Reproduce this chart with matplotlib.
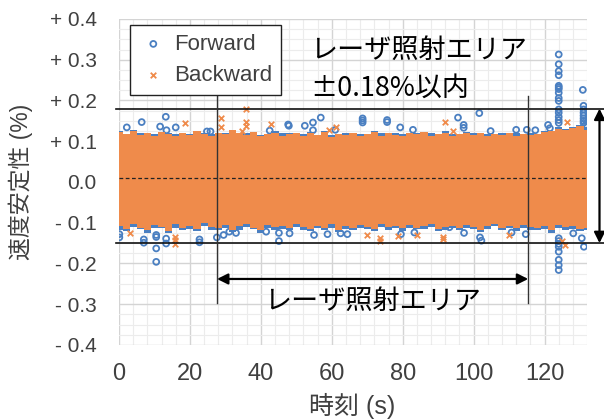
import numpy as np
import matplotlib
matplotlib.use("Agg")
import matplotlib.pyplot as plt
from matplotlib.ticker import FixedLocator, FuncFormatter

plt.rcParams['font.family'] = ['Liberation Sans', 'Noto Sans CJK JP']

BLUE = '#4a7fc1'
ORANGE = '#ef8b4b'
LABEL_GREY = '#404040'

# sample times (s) for the dense band envelopes
band_t = [0, 2, 4, 6, 8, 10, 12, 14, 16, 18, 20, 22, 24, 26, 28, 30, 32, 34, 36, 38,
          40, 42, 44, 46, 48, 50, 52, 54, 56, 58, 60, 62, 64, 66, 68, 70, 72, 74, 76, 78,
          80, 82, 84, 86, 88, 90, 92, 94, 96, 98, 100, 102, 104, 106, 108, 110, 112, 114,
          116, 118, 120, 122, 124, 126, 128, 130, 132]

# Backward (orange) dense band: upper / lower envelope (%)
bwd_hi = [0.122, 0.118, 0.125, 0.116, 0.121, 0.114, 0.123, 0.117, 0.112, 0.120,
          0.115, 0.124, 0.118, 0.113, 0.121, 0.117, 0.128, 0.119, 0.115, 0.122,
          0.112, 0.118, 0.120, 0.114, 0.117, 0.121, 0.113, 0.119, 0.116, 0.122,
          0.111, 0.118, 0.115, 0.120, 0.113, 0.117, 0.122, 0.114, 0.119, 0.116,
          0.112, 0.120, 0.117, 0.123, 0.114, 0.118, 0.121, 0.113, 0.117, 0.120,
          0.115, 0.119, 0.112, 0.118, 0.116, 0.121, 0.114, 0.118, 0.115, 0.117,
          0.122, 0.126, 0.130, 0.127, 0.132, 0.138, 0.128]
bwd_lo = [-0.108, -0.115, -0.102, -0.112, -0.118, -0.105, -0.110, -0.120, -0.104, -0.113,
          -0.108, -0.116, -0.101, -0.110, -0.114, -0.106, -0.119, -0.109, -0.103, -0.112,
          -0.117, -0.105, -0.111, -0.108, -0.114, -0.102, -0.110, -0.116, -0.107, -0.112,
          -0.104, -0.118, -0.109, -0.113, -0.106, -0.111, -0.115, -0.103, -0.110, -0.108,
          -0.114, -0.106, -0.112, -0.109, -0.104, -0.116, -0.110, -0.107, -0.113, -0.105,
          -0.111, -0.117, -0.108, -0.102, -0.112, -0.109, -0.114, -0.106, -0.110, -0.113,
          -0.108, -0.118, -0.105, -0.111, -0.109, -0.115, -0.112]

# Forward (blue) dense band: upper / lower envelope (%)
fwd_hi = [0.124, 0.118, 0.127, 0.121, 0.121, 0.118, 0.123, 0.121, 0.118, 0.120,
          0.118, 0.124, 0.120, 0.118, 0.121, 0.121, 0.128, 0.121, 0.120, 0.122,
          0.116, 0.118, 0.124, 0.119, 0.120, 0.121, 0.118, 0.122, 0.116, 0.124,
          0.116, 0.118, 0.119, 0.120, 0.118, 0.117, 0.124, 0.119, 0.119, 0.120,
          0.117, 0.120, 0.121, 0.123, 0.119, 0.118, 0.124, 0.118, 0.117, 0.123,
          0.119, 0.119, 0.117, 0.118, 0.120, 0.121, 0.119, 0.118, 0.120, 0.117,
          0.124, 0.126, 0.134, 0.130, 0.135, 0.140, 0.133]
fwd_lo = [-0.118, -0.120, -0.110, -0.115, -0.124, -0.113, -0.114, -0.125, -0.112, -0.118,
          -0.116, -0.120, -0.109, -0.118, -0.119, -0.113, -0.123, -0.117, -0.111, -0.116,
          -0.124, -0.112, -0.117, -0.115, -0.119, -0.110, -0.118, -0.121, -0.113, -0.119,
          -0.112, -0.122, -0.116, -0.118, -0.114, -0.115, -0.121, -0.110, -0.117, -0.113,
          -0.120, -0.112, -0.116, -0.116, -0.111, -0.121, -0.117, -0.112, -0.119, -0.112,
          -0.116, -0.122, -0.115, -0.109, -0.118, -0.114, -0.120, -0.112, -0.117, -0.118,
          -0.115, -0.124, -0.113, -0.118, -0.115, -0.121, -0.119]

# Forward points lying outside the dense band
fwd_out_t = [2.2, 6.4, 11.6, 13.2, 13.4, 16.0, 24.8, 25.8, 42.5, 47.7, 47.9, 52.4, 54.7,
             54.7, 56.9, 61.0, 68.7, 68.7, 68.7, 75.6, 75.6, 79.3, 82.9, 95.6, 97.2, 97.2,
             101.6, 104.8, 112.0, 115.0, 117.4, 121.0, 121.5,
             124.0, 124.0, 124.0, 124.0, 124.0, 124.0, 124.0, 124.0, 124.0, 124.0,
             124.0, 124.0, 124.0, 124.0, 124.0,
             130.8, 131.0, 131.0, 131.0, 131.0, 131.0, 131.0, 131.0, 131.6, 132.0,
             0.1, 0.1, 7.0, 7.0, 10.5, 10.5, 10.5, 10.5, 13.3, 13.3, 22.7, 22.7, 27.6,
             29.5, 31.1, 33.0, 41.5, 45.1, 45.1, 48.1, 55.0, 58.8, 62.5, 64.4, 75.8,
             79.5, 83.3, 93.2, 97.3, 101.8, 102.2, 110.7, 114.7,
             124.0, 124.0, 124.0, 124.0, 124.0, 124.0, 124.0, 124.0,
             128.1, 130.5, 131.1]
fwd_out_v = [0.134, 0.147, 0.136, 0.160, 0.127, 0.134, 0.124, 0.124, 0.126, 0.141, 0.138,
             0.138, 0.146, 0.127, 0.158, 0.128, 0.156, 0.151, 0.146, 0.152, 0.147, 0.134,
             0.128, 0.158, 0.140, 0.133, 0.169, 0.125, 0.128, 0.128, 0.127, 0.140, 0.132,
             0.313, 0.289, 0.272, 0.262, 0.236, 0.232, 0.228, 0.219, 0.206, 0.199,
             0.178, 0.170, 0.160, 0.152, 0.145,
             0.226, 0.187, 0.178, 0.170, 0.163, 0.156, 0.150, 0.145, 0.140, 0.135,
             -0.136, -0.128, -0.149, -0.141, -0.163, -0.196, -0.135, -0.130, -0.151,
             -0.139, -0.148, -0.141, -0.136, -0.130, -0.122, -0.125, -0.122, -0.145,
             -0.125, -0.126, -0.130, -0.128, -0.126, -0.128, -0.106, -0.128, -0.124,
             -0.111, -0.125, -0.136, -0.144, -0.124, -0.128,
             -0.138, -0.145, -0.152, -0.159, -0.171, -0.191, -0.204, -0.216,
             -0.126, -0.138, -0.159]

# Backward points lying outside the dense band
bwd_out_t = [18.5, 28.8, 28.8, 35.9, 35.9, 35.9, 34.8, 43.0, 59.2, 61.1, 91.8, 94.3, 126.4,
             15.9, 15.9, 15.9, 73.5, 73.5, 78.6, 91.3, 91.3, 84.0, 125.9, 125.0, 3.0,
             70.0, 110.0]
bwd_out_v = [0.144, 0.156, 0.136, 0.180, 0.148, 0.138, 0.125, 0.142, 0.128, 0.136, 0.146,
             0.125, 0.147,
             -0.153, -0.143, -0.135, -0.146, -0.138, -0.133, -0.141, -0.135, -0.130,
             -0.155, -0.146, -0.125, -0.130, -0.130]

y_ticks = [-0.4, -0.3, -0.2, -0.1, 0.0, 0.1, 0.2, 0.3, 0.4]
x_ticks = [0, 20, 40, 60, 80, 100, 120]

upper_limit = 0.18
lower_limit = -0.15
mean_level = 0.01
area_start = 27.65
area_end = 115.4

fig = plt.figure(figsize=(6.04, 4.2), dpi=100)
ax = fig.add_axes([0.197, 0.1786, 0.775, 0.7762])
ax.set_xlim(0, 132)
ax.set_ylim(-0.4, 0.4)

# grid: major every 20 s / 0.1 %, minor every 4 s / 0.025 %
ax.xaxis.set_major_locator(FixedLocator(x_ticks))
ax.xaxis.set_minor_locator(FixedLocator(list(range(0, 133, 4))))
ax.yaxis.set_major_locator(FixedLocator(y_ticks))
ax.yaxis.set_minor_locator(FixedLocator([i * 0.025 for i in range(-16, 17)]))
ax.grid(which='major', color='#d4d4d4', linewidth=1.0, zorder=0)
ax.grid(which='minor', color='#ececec', linewidth=0.8, zorder=0)
ax.set_axisbelow(True)
for s in ax.spines.values():
    s.set_visible(False)

def ylab(v, _):
    if abs(v) < 1e-9:
        return '0.0'
    return ('+ ' if v > 0 else '- ') + f'{abs(v):.1f}'

ax.yaxis.set_major_formatter(FuncFormatter(ylab))
ax.tick_params(which='both', length=0)
ax.tick_params(axis='y', pad=16, labelsize=15, labelcolor=LABEL_GREY)
ax.tick_params(axis='x', pad=13, labelsize=17, labelcolor=LABEL_GREY)

# dense bands and outlying points
ax.fill_between(band_t, fwd_lo, fwd_hi, step='mid', color=BLUE, linewidth=0, zorder=2)
ax.scatter(fwd_out_t, fwd_out_v, s=18, facecolors='none', edgecolors=BLUE,
           linewidths=1.3, zorder=3)
ax.fill_between(band_t, bwd_lo, bwd_hi, step='mid', color=ORANGE, linewidth=0, zorder=4)
ax.scatter(bwd_out_t, bwd_out_v, s=16, marker='x', color=ORANGE, linewidths=1.3, zorder=5)

# legend
h_f = ax.scatter([], [], s=18, facecolors='none', edgecolors=BLUE, linewidths=1.3, label='Forward')
h_b = ax.scatter([], [], s=16, marker='x', color=ORANGE, linewidths=1.3, label='Backward')
leg = ax.legend(handles=[h_f, h_b], loc='upper left', bbox_to_anchor=(0.0235, 0.982),
                borderaxespad=0, fontsize=16, frameon=True, fancybox=False,
                edgecolor='#222222', framealpha=1, handletextpad=0.3, borderpad=0.4,
                labelspacing=0.45, handlelength=1.3)
leg.get_frame().set_linewidth(1.0)
for txt in leg.get_texts():
    txt.set_color(LABEL_GREY)
leg.set_zorder(10)

# mean and limit lines
ax.axhline(mean_level, color='#222222', linestyle=(0, (3, 2)), linewidth=0.9, zorder=6)
for lv in (upper_limit, lower_limit):
    ax.plot([-0.9, 140], [lv, lv], color='#111111', linewidth=1.2, clip_on=False, zorder=7)

# laser-irradiated region markers
for xv in (area_start, area_end):
    ax.plot([xv, xv], [0.21, -0.298], color='#333333', linewidth=1.0, zorder=7)
ax.annotate('', xy=(area_start, -0.238), xytext=(area_end, -0.238),
            arrowprops=dict(arrowstyle='<|-|>', color='black', lw=1.6,
                            mutation_scale=16, shrinkA=0, shrinkB=0), zorder=8)
ann_font = ['Noto Sans CJK JP', 'DejaVu Sans']
ax.text((area_start + area_end) / 2, -0.293, 'レーザ照射エリア', ha='center', va='center',
        fontsize=19.5, color='black', family=ann_font, zorder=8)

ax.annotate('', xy=(135.5, upper_limit), xytext=(135.5, lower_limit),
            arrowprops=dict(arrowstyle='<|-|>', color='black', lw=1.6,
                            mutation_scale=16, shrinkA=0, shrinkB=0),
            annotation_clip=False, zorder=8)
ax.text(53.8, 0.322, 'レーザ照射エリア', ha='left', va='center', fontsize=19.5,
        color='black', family=ann_font, zorder=8)
ax.text(54.0, 0.231, '±0.18%以内', ha='left', va='center', fontsize=19.5,
        color='black', family=ann_font, zorder=8)

ax.set_xlabel('時刻 (s)', fontsize=18, color=LABEL_GREY, va='center')
ax.set_ylabel('速度安定性 (%)', fontsize=16.5, color=LABEL_GREY, va='center')
ax.xaxis.set_label_coords(0.498, -0.188)
ax.yaxis.set_label_coords(-0.21, 0.5)

fig.savefig('out.png', dpi=100)
